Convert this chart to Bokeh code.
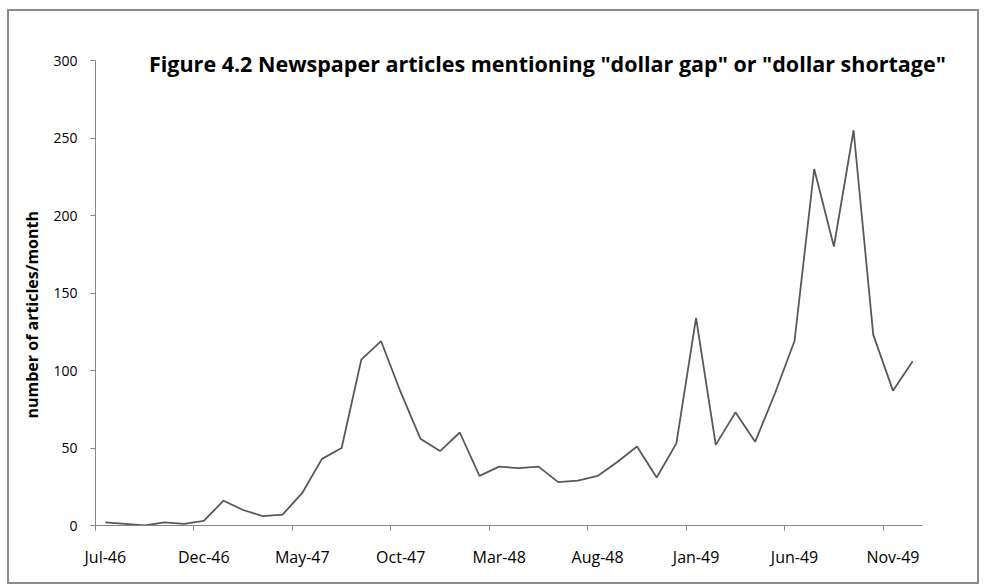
import math
from bokeh.plotting import figure
from bokeh.models import FixedTicker, Label, Range1d, Title
from bokeh.embed import file_html
from bokeh.resources import INLINE

months = ["Jul-46", "Aug-46", "Sep-46", "Oct-46", "Nov-46", "Dec-46",
          "Jan-47", "Feb-47", "Mar-47", "Apr-47", "May-47", "Jun-47",
          "Jul-47", "Aug-47", "Sep-47", "Oct-47", "Nov-47", "Dec-47",
          "Jan-48", "Feb-48", "Mar-48", "Apr-48", "May-48", "Jun-48",
          "Jul-48", "Aug-48", "Sep-48", "Oct-48", "Nov-48", "Dec-48",
          "Jan-49", "Feb-49", "Mar-49", "Apr-49", "May-49", "Jun-49",
          "Jul-49", "Aug-49", "Sep-49", "Oct-49", "Nov-49", "Dec-49"]
articles = [2, 1, 0, 2, 1, 3, 16, 10, 6, 7, 21, 43,
            50, 107, 119, 86, 56, 48, 60, 32, 38, 37, 38, 28,
            29, 32, 41, 51, 31, 53, 134, 52, 73, 54, 85, 119,
            230, 180, 255, 123, 87, 106]
tick_labels = ["Jul-46", "Dec-46", "May-47", "Oct-47", "Mar-48",
               "Aug-48", "Jan-49", "Jun-49", "Nov-49"]
y_ticks = [0, 50, 100, 150, 200, 250, 300]
title_text = 'Figure 4.2 Newspaper articles mentioning "dollar gap" or "dollar shortage"'
y_title = "number of articles/month"

xs = list(range(len(months)))
tick_pos = [months.index(t) for t in tick_labels]

AX = "#868686"
FONT = "Open Sans"

# axis area 827 x 465 px; frame extended (right/top) so the title is not clipped
px_per_month = 827 / len(months)
x_lo, x_hi = -0.5, len(months) - 0.5
x_end = x_hi + 38 / px_per_month
y_top = 300 * 481 / 465

p = figure(width=972, height=575, output_backend="svg", toolbar_location=None,
           x_range=Range1d(x_lo, x_end), y_range=Range1d(0, y_top),
           min_border_left=86, min_border_right=21, min_border_top=33,
           min_border_bottom=61, outline_line_color=None,
           styles={"border": "2px solid #8c8c8c", "margin-left": "7px",
                   "margin-top": "9px"})
p.grid.visible = False

p.line(xs, articles, line_color="#595959", line_width=1.8)

xa = p.xaxis[0]
xa.ticker = FixedTicker(ticks=tick_pos, minor_ticks=[t - 0.5 for t in tick_pos])
xa.major_label_overrides = {t: lab for t, lab in zip(tick_pos, tick_labels)}
xa.bounds = (x_lo, x_hi)
xa.major_tick_line_color = None
xa.major_tick_out = 0
xa.major_tick_in = 0
xa.minor_tick_line_color = AX
xa.minor_tick_out = 5
xa.minor_tick_in = 0
xa.axis_line_color = AX
xa.major_label_standoff = 15
xa.major_label_text_font = FONT
xa.major_label_text_font_size = "16px"
xa.major_label_text_color = "#000000"

ya = p.yaxis[0]
ya.ticker = FixedTicker(ticks=y_ticks, minor_ticks=[])
ya.bounds = (0, 300)
ya.axis_line_color = AX
ya.major_tick_line_color = AX
ya.major_tick_out = 5
ya.major_tick_in = 0
ya.minor_tick_line_color = None
ya.major_label_standoff = 13
ya.major_label_text_font = FONT
ya.major_label_text_font_size = "14px"
ya.major_label_text_color = "#000000"

p.add_layout(Label(x=22.45, y=298, text=title_text, text_align="center",
                   text_baseline="middle", text_font=FONT,
                   text_font_size="21.5px", text_font_style="bold",
                   text_color="#000000"))
p.add_layout(Title(text=y_title, align="left", offset=107, standoff=16,
                   text_font=FONT, text_font_size="16px",
                   text_font_style="bold", text_color="#000000"), "left")

open("out.html", "w").write(file_html(p, INLINE))
